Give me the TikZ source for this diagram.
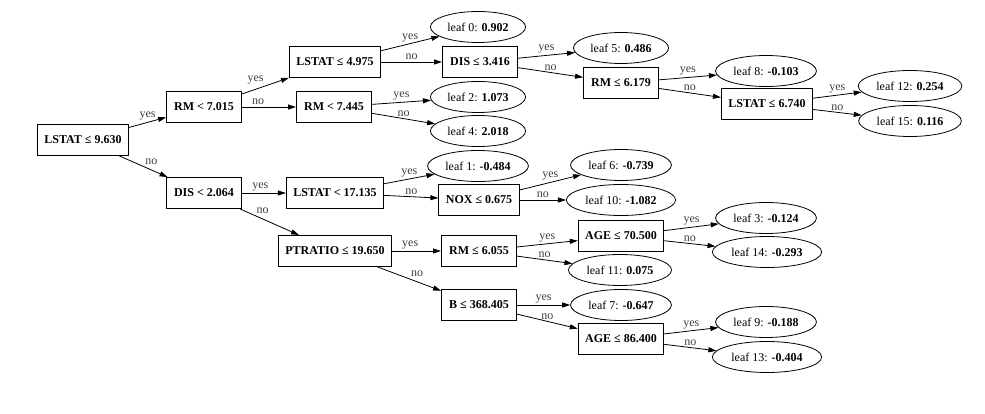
\documentclass[tikz,border=0pt]{standalone}
\usepackage{fontspec}
\setmainfont{Liberation Serif}
\usetikzlibrary{arrows.meta,shapes.geometric}

\begin{document}
\begin{tikzpicture}[
    x=1pt, y=-1pt,
    font=\fontsize{12}{14}\selectfont,
    split/.style={draw, line width=0.9pt, minimum width=75pt, minimum height=31pt, inner xsep=7pt, font=\fontsize{12}{14}\selectfont\bfseries},
    leaf/.style={draw, ellipse, line width=0.8pt, minimum height=31pt, inner xsep=3pt, inner ysep=2pt},
    edge/.style={line width=0.8pt, -{Triangle[length=8pt,width=5pt]}},
    lbl/.style={above, inner sep=1.5pt, text=black!75}]
    \useasboundingbox (0,0) rectangle (985,414);
    \node[split] (root) at (83,140) {LSTAT ≤ 9.630};
    \node[split] (rm1) at (204,107) {RM < 7.015};
    \node[split] (dis1) at (204,193) {DIS < 2.064};
    \node[split] (lstat2) at (335,62) {LSTAT ≤ 4.975};
    \node[split] (rm2) at (334,107) {RM < 7.445};
    \node[split] (lstat3) at (335,193) {LSTAT < 17.135};
    \node[split] (ptratio) at (335,251) {PTRATIO ≤ 19.650};
    \node[split] (dis2) at (480,62) {DIS ≤ 3.416};
    \node[split] (nox) at (479,200) {NOX ≤ 0.675};
    \node[split] (rm3) at (479,251) {RM ≤ 6.055};
    \node[split] (b) at (479,305) {B ≤ 368.405};
    \node[split] (rm4) at (621,83) {RM ≤ 6.179};
    \node[split] (lstat4) at (767,104) {LSTAT ≤ 6.740};
    \node[split] (age1) at (621,236) {AGE ≤ 70.500};
    \node[split] (age2) at (621,339) {AGE ≤ 86.400};
    \node[leaf] (leaf0) at (478,27) {leaf 0: \textbf{0.902}};
    \node[leaf] (leaf2) at (478,97) {leaf 2: \textbf{1.073}};
    \node[leaf] (leaf4) at (478,131) {leaf 4: \textbf{2.018}};
    \node[leaf] (leaf1) at (478,166) {leaf 1: \textbf{-0.484}};
    \node[leaf] (leaf5) at (621,48) {leaf 5: \textbf{0.486}};
    \node[leaf] (leaf8) at (766,71) {leaf 8: \textbf{-0.103}};
    \node[leaf] (leaf12) at (910,86) {leaf 12: \textbf{0.254}};
    \node[leaf] (leaf15) at (910,121) {leaf 15: \textbf{0.116}};
    \node[leaf] (leaf6) at (621,165) {leaf 6: \textbf{-0.739}};
    \node[leaf] (leaf10) at (621,200) {leaf 10: \textbf{-1.082}};
    \node[leaf] (leaf3) at (766,218) {leaf 3: \textbf{-0.124}};
    \node[leaf] (leaf14) at (767,252) {leaf 14: \textbf{-0.293}};
    \node[leaf] (leaf11) at (620,270) {leaf 11: \textbf{0.075}};
    \node[leaf] (leaf7) at (621,305) {leaf 7: \textbf{-0.647}};
    \node[leaf] (leaf9) at (766,322) {leaf 9: \textbf{-0.188}};
    \node[leaf] (leaf13) at (767,357) {leaf 13: \textbf{-0.404}};
    \draw[edge] (root) -- node[lbl] {yes} (rm1);
    \draw[edge] (root) -- node[lbl, above right] {no} (dis1);
    \draw[edge] (rm1) -- node[lbl, above left] {yes} (lstat2);
    \draw[edge] (rm1) -- node[lbl, pos=.3] {no} (rm2);
    \draw[edge] (dis1) -- node[lbl, pos=.42] {yes} (lstat3);
    \draw[edge] (dis1) -- node[lbl, above right, pos=.25] {no} (ptratio);
    \draw[edge] (lstat2) -- node[lbl] {yes} (leaf0);
    \draw[edge] (lstat2) -- node[lbl] {no} (dis2);
    \draw[edge] (rm2) -- node[lbl] {yes} (leaf2);
    \draw[edge] (rm2) -- node[lbl] {no} (leaf4);
    \draw[edge] (lstat3) -- node[lbl] {yes} (leaf1);
    \draw[edge] (lstat3) -- node[lbl] {no} (nox);
    \draw[edge] (ptratio) -- node[lbl, pos=.37] {yes} (rm3);
    \draw[edge] (ptratio) -- node[lbl, above right] {no} (b);
    \draw[edge] (dis2) -- node[lbl] {yes} (leaf5);
    \draw[edge] (dis2) -- node[lbl] {no} (rm4);
    \draw[edge] (rm4) -- node[lbl] {yes} (leaf8);
    \draw[edge] (rm4) -- node[lbl] {no} (lstat4);
    \draw[edge] (lstat4) -- node[lbl] {yes} (leaf12);
    \draw[edge] (lstat4) -- node[lbl] {no} (leaf15);
    \draw[edge] (nox) -- node[lbl] {yes} (leaf6);
    \draw[edge] (nox) -- node[lbl] {no} (leaf10);
    \draw[edge] (rm3) -- node[lbl] {yes} (age1);
    \draw[edge] (rm3) -- node[lbl] {no} (leaf11);
    \draw[edge] (b) -- node[lbl] {yes} (leaf7);
    \draw[edge] (b) -- node[lbl] {no} (age2);
    \draw[edge] (age1) -- node[lbl] {yes} (leaf3);
    \draw[edge] (age1) -- node[lbl] {no} (leaf14);
    \draw[edge] (age2) -- node[lbl] {yes} (leaf9);
    \draw[edge] (age2) -- node[lbl] {no} (leaf13);
\end{tikzpicture}
\end{document}
